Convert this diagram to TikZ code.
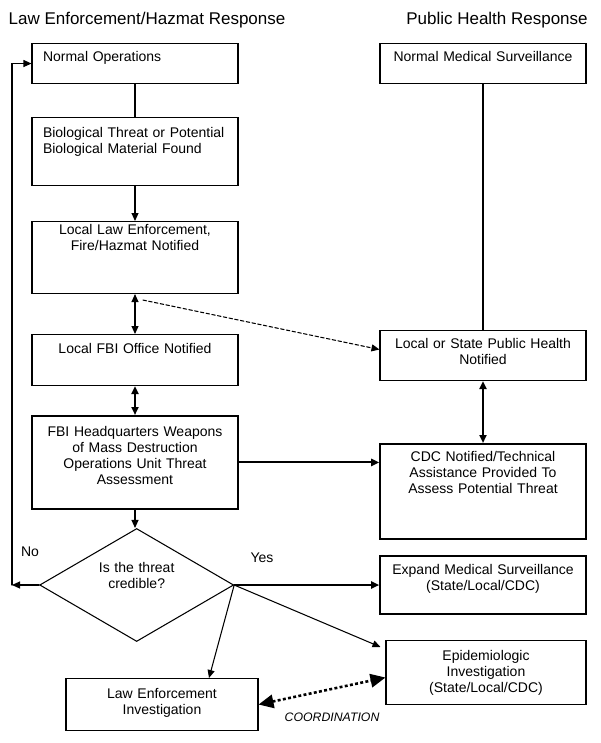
\documentclass[tikz,border=0pt]{standalone}
\usepackage{fontspec}
\setmainfont{Liberation Sans}
\usepackage{tikz}
\usetikzlibrary{arrows.meta,shapes.geometric}

\begin{document}
\begin{tikzpicture}[>={Triangle[length=2.4mm,width=2.1mm]},line cap=round,
  font=\fontsize{11.95}{13.66}\selectfont,
  box/.style={draw,line width=0.9pt,anchor=north,inner xsep=0.33cm,inner ysep=0pt,text width=5.52cm,align=center},
  head/.style={font=\fontsize{14.5}{17}\selectfont},
  link/.style={line width=0.9pt},
  heavy/.style={line width=1.7pt}]
\useasboundingbox (0,0) rectangle (18,-22.29);
\node[head] (lawhead) at (4.41,-0.6) {Law Enforcement/Hazmat Response};
\node[head] (pubhead) at (14.91,-0.6) {Public Health Response};
\node[box,align=left,text height=0.54cm,text depth=0.66cm] (ops) at (4.05,-1.29) {Normal Operations};
\node[box,align=left,text height=0.6cm,text depth=1.44cm] (threat) at (4.05,-3.51) {Biological Threat or Potential\\Biological Material Found};
\node[box,text height=0.39cm,text depth=1.77cm] (le) at (4.05,-6.63) {Local Law Enforcement,\\Fire/Hazmat Notified};
\node[box,text height=0.57cm,text depth=0.96cm] (fbi) at (4.05,-10.02) {Local FBI Office Notified};
\node[box,line width=1.6pt,text height=0.63cm,text depth=2.16cm] (hq) at (4.05,-12.45) {FBI Headquarters Weapons\\of Mass Destruction\\Operations Unit Threat\\Assessment};
\node[box,text height=0.54cm,text depth=0.66cm] (nms) at (14.49,-1.29) {Normal Medical Surveillance};
\node[box,text height=0.54cm,text depth=0.96cm] (ph) at (14.49,-9.9) {Local or State Public Health\\Notified};
\node[box,line width=1.3pt,text height=0.54cm,text depth=2.31cm] (cdc) at (14.49,-13.29) {CDC Notified/Technical\\Assistance Provided To\\Assess Potential Threat};
\node[box,line width=1.3pt,text height=0.57cm,text depth=1.17cm] (grow) at (14.49,-16.65) {Expand Medical Surveillance\\(State/Local/CDC)};
\node[box,text width=5.34cm,text height=0.6cm,text depth=1.32cm] (epi) at (14.58,-19.2) {Epidemiologic\\Investigation\\(State/Local/CDC)};
\node[box,text width=5.1cm,text height=0.6cm,text depth=0.96cm] (lei) at (4.86,-20.34) {Law Enforcement\\Investigation};
\node[draw,diamond,aspect=1.7,line width=0.9pt,minimum width=5.82cm,minimum height=3.39cm,inner sep=0pt,text width=2.5cm,align=center,text height=0.36cm,text depth=1.11cm] (dia) at (4.1,-17.55) {Is the threat\\credible?};
\node (no) at (0.9,-16.56) {No};
\node (yes) at (7.86,-16.74) {Yes};
\node[font=\fontsize{10.5}{12}\selectfont\itshape] (coord) at (9.96,-21.51) {COORDINATION};
\coordinate (turn) at (0.36,-17.55);
\draw[link] (ops) -- (threat);
\draw[link,->] (threat) -- (le);
\draw[link,<->] (le) -- (fbi);
\draw[heavy,<->] (fbi) -- (hq);
\draw[link,->] (hq.south) -- (hq.south |- dia.north);
\draw[heavy] (nms) -- (ph);
\draw[heavy,<->] (ph) -- (cdc);
\draw[heavy,->] (hq.east) -- (hq.east -| cdc.west);
\draw[link,dash pattern=on 3pt off 2pt,->] ([xshift=0.24cm,yshift=-0.18cm]le.south) -- ([yshift=0.18cm]ph.west);
\draw[heavy,->] (dia.east) -- (dia.east -| grow.west);
\draw[link,->] (dia.east) -- ([xshift=-0.15cm,yshift=-0.21cm]epi.north west);
\draw[link,->] (dia.east) -- ([xshift=1.41cm]lei.north);
\draw[line width=2.2pt,line cap=butt,dash pattern=on 2.5pt off 2pt,{Triangle[length=4.5mm,width=4mm]}-{Triangle[length=4.5mm,width=4mm]}] (lei.east) -- ([yshift=-0.15cm]epi.west);
\draw[link,->] (dia.west) -- (turn);
\draw[link,->] (turn) |- (ops.west);
\end{tikzpicture}
\end{document}
